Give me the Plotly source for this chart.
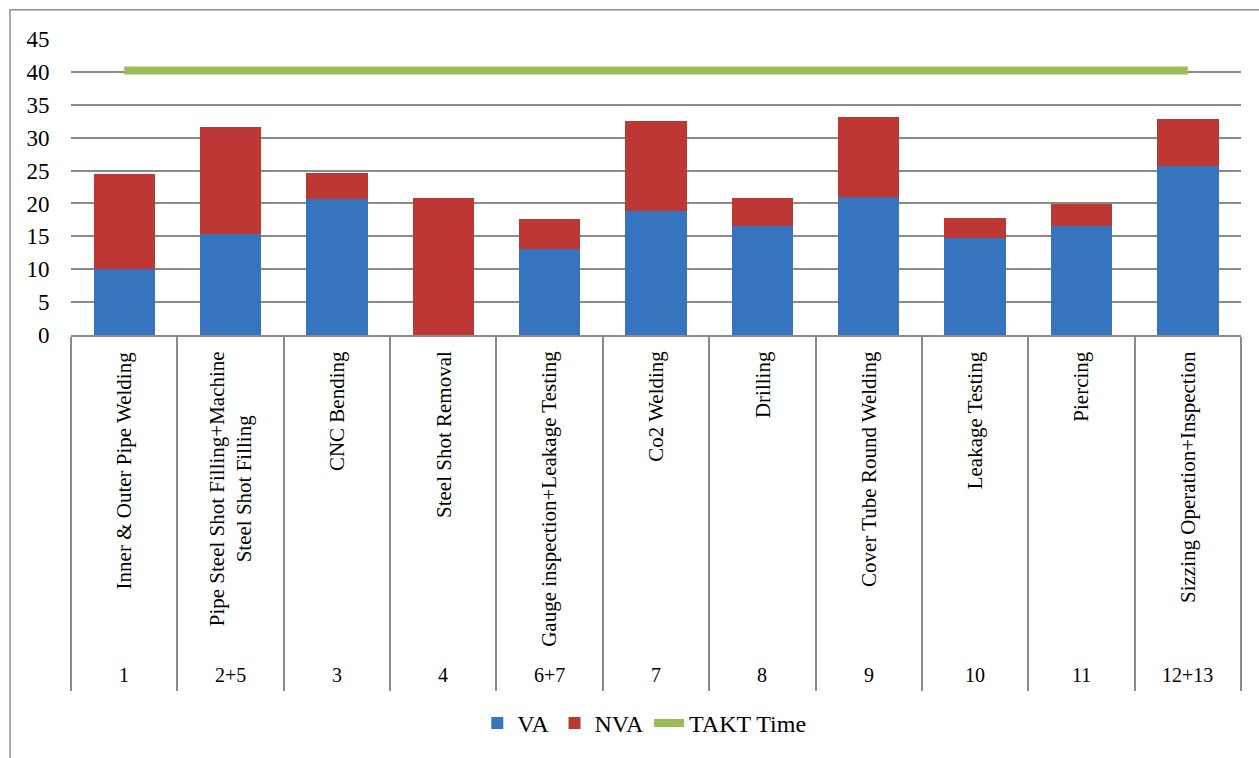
import plotly.graph_objects as go

names = [
    "Inner & Outer Pipe Welding",
    "Pipe Steel Shot Filling+Machine<br>Steel Shot Filling",
    "CNC Bending",
    "Steel Shot Removal",
    "Gauge inspection+Leakage Testing",
    "Co2 Welding",
    "Drilling",
    "Cover Tube Round Welding",
    "Leakage Testing",
    "Piercing",
    "Sizzing Operation+Inspection",
]
numbers = ["1", "2+5", "3", "4", "6+7", "7", "8", "9", "10", "11", "12+13"]
va = [10.0, 15.3, 20.7, 0.0, 13.1, 18.9, 16.5, 21.0, 14.8, 16.5, 25.7]
nva = [14.5, 16.3, 3.9, 20.8, 4.5, 13.7, 4.3, 12.1, 3.0, 3.4, 7.2]
takt = [40.2, 40.2, 40.2, 40.2, 40.2, 40.2, 40.2, 40.2, 40.2, 40.2, 40.2]
y_ticks = [0, 5, 10, 15, 20, 25, 30, 35, 40, 45]

FONT = "Liberation Serif"
GRID = "#8a8a8a"

fig = go.Figure()
fig.add_trace(go.Bar(x=numbers, y=va, name="VA",
                     marker=dict(color="#3674c0", line=dict(width=0))))
fig.add_trace(go.Bar(x=numbers, y=nva, name="NVA",
                     marker=dict(color="#bd3735", line=dict(width=0))))
fig.add_trace(go.Scatter(x=numbers, y=takt, name="TAKT Time", mode="lines",
                         line=dict(color="#9bbb59", width=8)))

# category positions on the category axis are the indices 0..n-1
for i, (num, nm) in enumerate(zip(numbers, names)):
    fig.add_annotation(x=i, xref="x", y=-0.048, yref="paper", text=nm,
                       textangle=-90, showarrow=False, xanchor="center",
                       yanchor="top", align="center",
                       font=dict(family=FONT, size=21, color="black"))
    fig.add_annotation(x=i, xref="x", y=-1.1476, yref="paper", text=num,
                       showarrow=False, xanchor="center", yanchor="middle",
                       font=dict(family=FONT, size=20, color="black"))

# outer chart frame
fig.add_shape(type="rect", xref="paper", yref="paper",
              x0=-0.0521, x1=1.2, y0=-1.6, y1=1.0985,
              line=dict(color="#8f8f8f", width=1.5), layer="below")

fig.update_layout(
    width=1259, height=758,
    margin=dict(l=71, r=18, t=39, b=421),
    barmode="stack", bargap=0.423,
    plot_bgcolor="white", paper_bgcolor="white",
    font=dict(family=FONT, size=22, color="black"),
    showlegend=True,
    legend=dict(orientation="h", x=0.49, xanchor="center", y=-1.312,
                yanchor="middle", traceorder="normal",
                font=dict(family=FONT, size=24, color="black")),
    xaxis=dict(type="category", showgrid=False, showticklabels=False,
               ticks="outside", tickson="boundaries", ticklen=354,
               tickwidth=2, tickcolor=GRID, showline=True, linecolor=GRID,
               linewidth=2, zeroline=False),
    yaxis=dict(range=[0, 45], tickvals=y_ticks, showgrid=True,
               gridcolor=GRID, gridwidth=2, zeroline=False,
               ticks="outside", ticklen=16, tickcolor="rgba(0,0,0,0)",
               tickfont=dict(family=FONT, size=23, color="black")),
)

fig.write_html("out.html")
